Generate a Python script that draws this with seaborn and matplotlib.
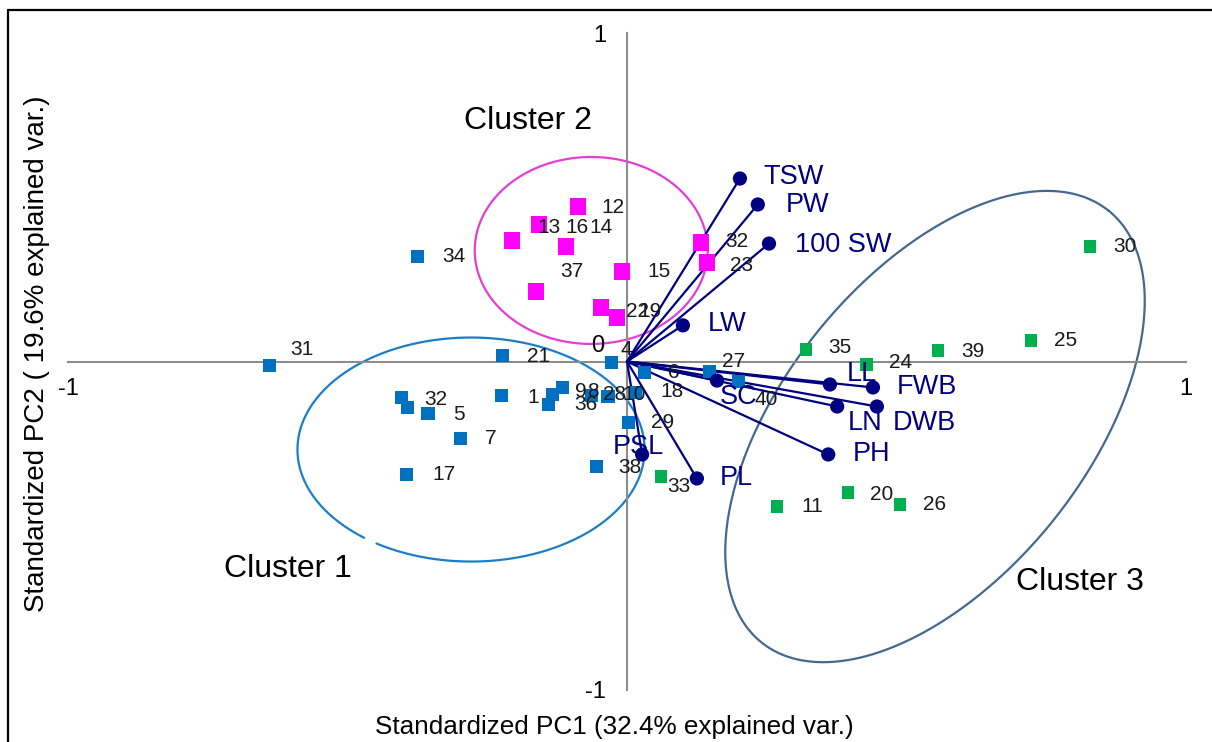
import numpy as np
import pandas as pd
import matplotlib
matplotlib.use("Agg")
import matplotlib.pyplot as plt
import seaborn as sns
from matplotlib.lines import Line2D

sns.set_theme(style="white")
plt.rcParams["font.family"] = ["Liberation Sans", "DejaVu Sans"]

# ---------------- data ----------------
c1_labels = ["31", "34", "21", "1", "32", "", "5", "7", "17", "9", "8", "36",
             "28", "10", "18", "4", "6", "27", "40", "29", "38"]
c1_pc1 = [-0.640, -0.374, -0.222, -0.224, -0.403, -0.392, -0.356, -0.297, -0.395,
          -0.134, -0.116, -0.141, -0.063, -0.034, 0.016, -0.027, 0.032, 0.148,
          0.199, 0.002, -0.055]
c1_pc2 = [-0.012, 0.320, 0.018, -0.104, -0.110, -0.140, -0.158, -0.234, -0.344,
          -0.100, -0.079, -0.131, -0.104, -0.107, -0.094, -0.003, -0.033, -0.030,
          -0.061, -0.186, -0.320]

c2_labels = ["12", "13", "16", "14", "37", "15", "22", "19", "32", "23"]
c2_pc1 = [-0.088, -0.206, -0.157, -0.109, -0.163, -0.009, -0.047, -0.018, 0.132, 0.143]
c2_pc2 = [0.472, 0.368, 0.417, 0.350, 0.213, 0.274, 0.164, 0.134, 0.362, 0.301]

c3_labels = ["30", "35", "24", "39", "25", "33", "11", "20", "26"]
c3_pc1 = [0.828, 0.320, 0.428, 0.556, 0.723, 0.061, 0.268, 0.395, 0.488]
c3_pc2 = [0.350, 0.037, -0.009, 0.033, 0.064, -0.350, -0.441, -0.399, -0.435]

var_labels = ["TSW", "PW", "100 SW", "LW", "LL", "FWB", "LN", "DWB", "PH", "PL", "PSL", "SC"]
var_pc1 = [0.202, 0.234, 0.254, 0.100, 0.363, 0.440, 0.376, 0.447, 0.360, 0.125, 0.027, 0.161]
var_pc2 = [0.557, 0.478, 0.359, 0.110, -0.070, -0.079, -0.137, -0.137, -0.283, -0.356, -0.283, -0.058]

cluster_names = ["Cluster 1", "Cluster 2", "Cluster 3"]
# cluster envelopes: centre and two conjugate semi-axis vectors (data units)
env_center = [(-0.279, -0.268), (-0.064, 0.338), (0.551, -0.198)]
env_axis_a = [(0.3105, 0.0), (0.2084, 0.0), (0.3106, 0.657)]
env_axis_b = [(0.0, 0.341), (0.0, 0.2846), (-0.2105, 0.288)]
cluster_label_pos = [(-0.606, -0.633), (-0.177, 0.731), (0.810, -0.670)]

# ---------------- label offsets (pixels) ----------------
c1_off = [(21, 16), (24, 0), (24, -1), (26, -2), (23, -2), (0, 0), (25, -1), (24, 0),
          (26, 0), (23, 3), (25, -4), (26, 0), (11, 1), (14, 2), (24, 1), (9, 13),
          (23, 0), (12, 10), (16, -18), (23, 0), (22, -1)]
c2_off = [(24, -1), (26, 13), (26, -3), (23, 19), (24, 20), (25, 0), (25, -4), (21, 6),
          (24, 1), (23, -3)]
c3_off = [(23, 0), (22, 2), (23, 2), (23, -1), (23, 0), (6, -10), (25, 0), (22, -2), (23, 0)]
var_off = [(23, 2), (28, -1), (26, -1), (25, 1), (17, 10), (24, 0), (11, -16), (16, -16),
           (25, 0), (23, 0), (-29, 7), (3, -16)]

BLUE = "#0070C0"
MAGENTA = "#FF00FF"
GREEN = "#00B050"
NAVY = "#000080"
env_colors = ["#1C7DC8", "#E43FD5", "#45688F"]
AXIS = "#8C8C8C"

W, H = 1212, 742
fig = plt.figure(figsize=(W / 100, H / 100), dpi=100)
ax = fig.add_axes([68 / W, 1 - 690 / H, (1186 - 68) / W, (690 - 33) / H])
ax.set_facecolor("white")
ax.set_xlim(-1, 1)
ax.set_ylim(-1, 1)

# axes through origin
for s in ["top", "right"]:
    ax.spines[s].set_visible(False)
for s in ["left", "bottom"]:
    ax.spines[s].set_position("zero")
    ax.spines[s].set_color(AXIS)
    ax.spines[s].set_linewidth(1.5)
ax.set_xticks([-1, 1])
ax.set_xticklabels(["-1", "1"])
ax.set_yticks([-1, 1])
ax.set_yticklabels(["-1", "1"])
ax.tick_params(axis="both", direction="out", length=4, width=1.5, color=AXIS,
               labelsize=17, labelcolor="black")
ax.tick_params(axis="x", pad=8)
ax.tick_params(axis="y", pad=11)
ax.annotate("0", (0, 0), xytext=(-23, 15), textcoords="offset pixels",
            ha="right", va="center", fontsize=17, color="black")

# cluster envelopes
for k in range(3):
    cx, cy = env_center[k]
    a = np.array(env_axis_a[k])
    b = np.array(env_axis_b[k])
    if k == 0:
        t = np.radians(np.linspace(237, 592, 400))
    else:
        t = np.radians(np.linspace(0, 360, 400))
    xs = cx + a[0] * np.cos(t) + b[0] * np.sin(t)
    ys = cy + a[1] * np.cos(t) + b[1] * np.sin(t)
    ax.plot(xs, ys, color=env_colors[k], lw=1.6, zorder=2)
    ax.text(cluster_label_pos[k][0], cluster_label_pos[k][1], cluster_names[k],
            fontsize=23, color="black", ha="center", va="center")

# variable vectors
for x, y in zip(var_pc1, var_pc2):
    ax.plot([0, x], [0, y], color=NAVY, lw=1.6, zorder=3)

df1 = pd.DataFrame({"pc1": c1_pc1, "pc2": c1_pc2, "label": c1_labels})
df2 = pd.DataFrame({"pc1": c2_pc1, "pc2": c2_pc2, "label": c2_labels})
df3 = pd.DataFrame({"pc1": c3_pc1, "pc2": c3_pc2, "label": c3_labels})
dfv = pd.DataFrame({"pc1": var_pc1, "pc2": var_pc2, "label": var_labels})

sns.scatterplot(data=df1, x="pc1", y="pc2", marker="s", s=88, color=BLUE,
                edgecolor="none", ax=ax, zorder=4, legend=False)
sns.scatterplot(data=df2, x="pc1", y="pc2", marker="s", s=140, color=MAGENTA,
                edgecolor="none", ax=ax, zorder=4, legend=False)
sns.scatterplot(data=df3, x="pc1", y="pc2", marker="s", s=82, color=GREEN,
                edgecolor="none", ax=ax, zorder=4, legend=False)
sns.scatterplot(data=dfv, x="pc1", y="pc2", marker="o", s=105, color=NAVY,
                edgecolor="none", ax=ax, zorder=5, legend=False)

for df, offs in [(df1, c1_off), (df2, c2_off), (df3, c3_off)]:
    for (x, y, lab), (dx, dy) in zip(df[["pc1", "pc2", "label"]].values, offs):
        if lab:
            ax.annotate(lab, (x, y), xytext=(dx, dy), textcoords="offset pixels",
                        ha="left", va="center", fontsize=15, color="#1a1a1a", zorder=6)
for (x, y, lab), (dx, dy) in zip(dfv[["pc1", "pc2", "label"]].values, var_off):
    ax.annotate(lab, (x, y), xytext=(dx, dy), textcoords="offset pixels",
                ha="left", va="center", fontsize=19.5, color=NAVY, zorder=6)

ax.set_xlabel("")
ax.set_ylabel("")
fig.text(614 / W, 1 - 727 / H, "Standardized PC1 (32.4% explained var.)",
         ha="center", va="center", fontsize=18.8, color="black")
fig.text(37 / W, 1 - 354 / H, "Standardized PC2 ( 19.6% explained var.)",
         ha="center", va="center", rotation=90, fontsize=20, color="black")

# outer frame (left and top edges)
fig.add_artist(Line2D([8 / W, 8 / W], [0, 1 - 10 / H], color="black", lw=1.6,
                      transform=fig.transFigure))
fig.add_artist(Line2D([8 / W, 1], [1 - 10 / H, 1 - 10 / H], color="black", lw=1.6,
                      transform=fig.transFigure))

fig.savefig("out.png", dpi=100, facecolor="white")
